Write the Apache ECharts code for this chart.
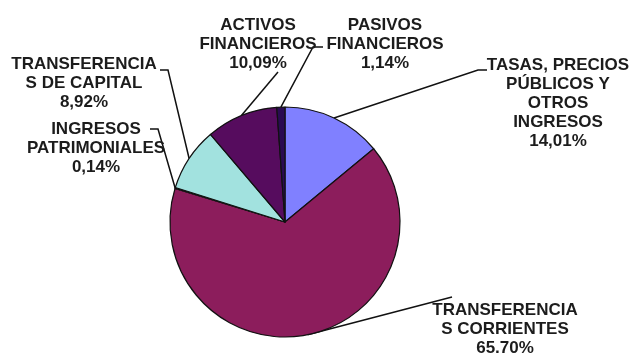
<!DOCTYPE html>
<html>
<head>
<meta charset="utf-8">
<script src="https://cdn.jsdelivr.net/npm/echarts@6/dist/echarts.min.js"></script>
<style>
  html, body { margin: 0; padding: 0; background: #ffffff; }
  #chart { width: 637px; height: 353px; }
</style>
</head>
<body>
<div id="chart"></div>
<script>
// Income structure by chapter (% of total), clockwise from 12 o'clock
const categories = [
  'TASAS, PRECIOS\nPÚBLICOS Y\nOTROS\nINGRESOS',
  'TRANSFERENCIA\nS CORRIENTES',
  'INGRESOS\nPATRIMONIALES',
  'TRANSFERENCIA\nS DE CAPITAL',
  'ACTIVOS\nFINANCIEROS',
  'PASIVOS\nFINANCIEROS'
];
const shares = [14.01, 65.70, 0.14, 8.92, 10.09, 1.14];
const sliceColors = ['#8080ff', '#8c1d5c', '#fbf8cf', '#a2e2df', '#560c5e', '#2a0b52'];

// Label placement: top-centre of each label block, plus the leader-line elbow and end
const labelSpots = [
  { x: 558, y: 55.5, elbow: [478, 70], end: [487, 70] },
  { x: 505, y: 300.5, elbow: [452, 297], end: [452, 297] },
  { x: 96,  y: 119.5, elbow: [158, 129], end: [150, 129] },
  { x: 84,  y: 54.5,  elbow: [168, 70], end: [160, 70] },
  { x: 258, y: 15.5,  elbow: [278, 72], end: [278, 72] },
  { x: 385, y: 15.5,  elbow: [313, 47], end: [323, 47] }
];

const fmt = v => v.toFixed(2).replace('.', ',') + '%';

const chart = echarts.init(document.getElementById('chart'), null, { renderer: 'canvas' });
chart.setOption({
  backgroundColor: '#ffffff',
  animation: false,
  series: [{
    type: 'pie',
    center: [285, 222],
    radius: 115,
    startAngle: 90,
    clockwise: true,
    avoidLabelOverlap: false,
    data: categories.map((name, i) => ({
      name: name,
      value: shares[i],
      itemStyle: { color: sliceColors[i] }
    })),
    itemStyle: { borderColor: '#111111', borderWidth: 1.2 },
    label: {
      show: true,
      position: 'outside',
      formatter: p => p.name + '\n' + fmt(p.value),
      fontFamily: '"Liberation Sans", Arial, sans-serif',
      fontWeight: 'bold',
      fontSize: 17,
      lineHeight: 19,
      color: '#1c1c1c',
      align: 'center'
    },
    labelLine: {
      show: true,
      lineStyle: { color: '#111111', width: 1.5 }
    },
    labelLayout: function (params) {
      const spot = labelSpots[params.dataIndex];
      const pts = params.labelLinePoints;
      const start = pts ? pts[0] : spot.elbow;
      return {
        x: spot.x,
        y: spot.y,
        align: 'center',
        verticalAlign: 'top',
        labelLinePoints: [start, spot.elbow, spot.end]
      };
    },
    emphasis: { disabled: true }
  }]
});
</script>
</body>
</html>
